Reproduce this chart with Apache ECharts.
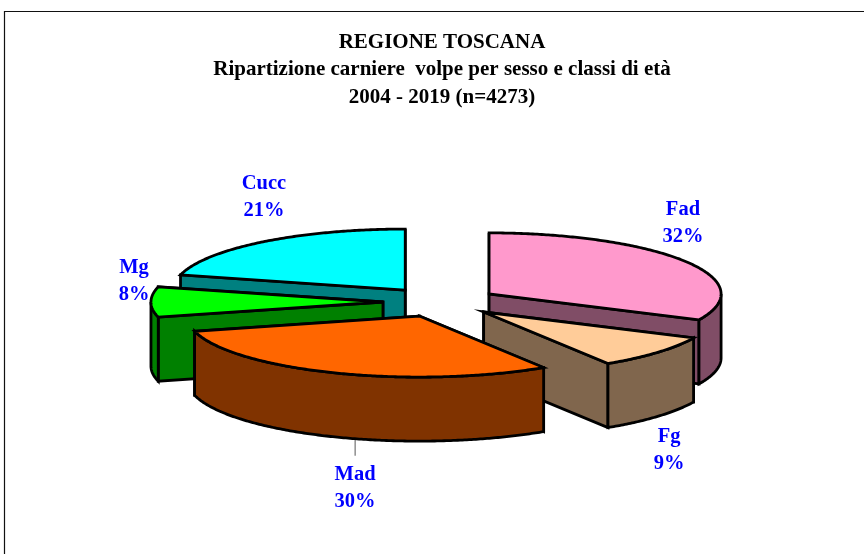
<!DOCTYPE html>
<html>
<head>
<meta charset="utf-8">
<style>html,body{margin:0;padding:0;background:#fff}#c{width:864px;height:554px}</style>
<script src="https://cdn.jsdelivr.net/npm/echarts@6/dist/echarts.min.js"></script>
</head>
<body>
<div id="c"></div>
<script>
const categories = ['Fad', 'Fg', 'Mad', 'Mg', 'Cucc'];
const shares = [32, 9, 30, 8, 21];
const topColors = ['#FF99CC', '#FFCC99', '#FF6600', '#00FF00', '#00FFFF'];
const wallColors = ['#804D66', '#80664D', '#803300', '#008000', '#008080'];
const titleLines = ['REGIONE TOSCANA', 'Ripartizione carniere  volpe per sesso e classi di età', '2004 - 2019 (n=4273)'];

const EXPLODE = 0.248, DEPTH = 1.05, FONT = '"Liberation Serif", serif';
// label anchors in pie units (x radius / y radius)
const labelPlacement = {
  Fad: [1.045, 1.287], Fg: [0.985, -2.43], Mad: [-0.368, -3.056], Mg: [-1.321, 0.336], Cucc: [-0.761, 1.714]
};
const leaderLine = { Mad: [-0.368, -2.26, -2.52] };

const total = shares.reduce((a, b) => a + b, 0);
let acc = 0;
const slices = shares.map(v => {
  const a0 = acc / total * 2 * Math.PI; acc += v;
  return { a0, a1: acc / total * 2 * Math.PI };
});
slices.forEach(s => {
  const m = (s.a0 + s.a1) / 2;
  s.cx = EXPLODE * Math.sin(m);
  s.cy = EXPLODE * Math.cos(m);
});
// painter's order: the further back on screen (higher y), the earlier
const rank = slices.map((s, i) => i).sort((a, b) => slices[b].cy - slices[a].cy);

function renderItem(params, api) {
  const i = params.dataIndex, s = slices[i], name = categories[i];
  const z2 = (rank.indexOf(i) + 1) * 10;
  const P = (x, y) => api.coord([x, y]);
  const rim = a => [s.cx + Math.sin(a), s.cy + Math.cos(a)];
  const stroke = { stroke: '#000', lineWidth: 2.8, lineJoin: 'miter', miterLimit: 12 };
  const poly = (pts, fill, k) => ({ type: 'polygon', z2: z2 + k, shape: { points: pts }, style: Object.assign({ fill }, stroke) });
  const children = [];

  const radial = a => {
    const [x, y] = rim(a);
    return { y, pts: [P(s.cx, s.cy), P(x, y), P(x, y - DEPTH), P(s.cx, s.cy - DEPTH)] };
  };
  [radial(s.a0), radial(s.a1)].sort((a, b) => b.y - a.y).forEach((w, k) => {
    children.push(poly(w.pts, wallColors[i], k));
  });

  const from = Math.max(s.a0, Math.PI / 2), to = Math.min(s.a1, 3 * Math.PI / 2);
  if (to > from) {
    const upper = [], lower = [];
    const n = Math.ceil((to - from) / 0.01);
    for (let k = 0; k <= n; k++) {
      const [x, y] = rim(from + (to - from) * k / n);
      upper.push(P(x, y));
      lower.unshift(P(x, y - DEPTH));
    }
    children.push(poly(upper.concat(lower), wallColors[i], 2));
  }

  const top = [P(s.cx, s.cy)];
  const m = Math.ceil((s.a1 - s.a0) / 0.01);
  for (let k = 0; k <= m; k++) {
    const [x, y] = rim(s.a0 + (s.a1 - s.a0) * k / m);
    top.push(P(x, y));
  }
  children.push(poly(top, topColors[i], 3));

  const lp = P(labelPlacement[name][0], labelPlacement[name][1]);
  children.push({
    type: 'text', z2: 100, x: lp[0], y: lp[1],
    style: {
      text: name + '\n' + api.value(0) + '%', fill: '#0000FF',
      fontFamily: FONT, fontWeight: 'bold', fontSize: 20.5, lineHeight: 27,
      align: 'center', verticalAlign: 'middle'
    }
  });
  if (leaderLine[name]) {
    const [lx, y1, y2] = leaderLine[name];
    const a = P(lx, y1), b = P(lx, y2);
    children.push({
      type: 'line', z2: 1, shape: { x1: a[0], y1: a[1], x2: b[0], y2: b[1] },
      style: { stroke: '#555', lineWidth: 1 }
    });
  }
  return { type: 'group', children };
}

const chart = echarts.init(document.getElementById('c'), null, { renderer: 'canvas' });
chart.setOption({
  animation: false,
  backgroundColor: '#fff',
  title: {
    text: titleLines.join('\n'), left: 437, top: 23.5, textAlign: 'center',
    textStyle: { fontFamily: FONT, fontWeight: 'bold', fontSize: 21, lineHeight: 27.5, color: '#000' }
  },
  grid: { left: 208.5, width: 464, top: 241, height: 122, show: false },
  xAxis: { type: 'value', min: -1, max: 1, show: false },
  yAxis: { type: 'value', min: -1, max: 1, show: false },
  graphic: [
    { type: 'polyline', shape: { points: [[4.5, 554], [4.5, 11.5], [864, 11.5]] }, style: { stroke: '#111', lineWidth: 1.2, fill: null } }
  ],
  series: [{
    type: 'custom', coordinateSystem: 'cartesian2d', clip: false, silent: true,
    encode: { x: 0, y: 0 },
    data: shares.map(v => [v]),
    renderItem
  }]
});
</script>
</body>
</html>
